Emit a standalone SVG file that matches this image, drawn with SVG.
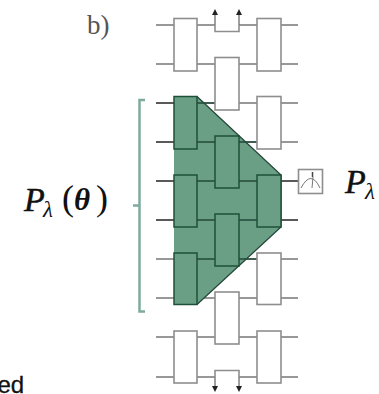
<svg xmlns="http://www.w3.org/2000/svg" width="379" height="394" viewBox="0 0 379 394">
<style>
.w{fill:none;stroke:#777;stroke-width:1.4}
.b{fill:#fff;stroke:#8e8e8e;stroke-width:1.6}
.g{fill:#6b9f85;stroke:#1f4f3a;stroke-width:1.5}
.a{fill:#222}
.m{font-family:"Liberation Serif","DejaVu Serif",serif;fill:#111}
</style>
<rect width="379" height="394" fill="#fff"/>
<g id="connectors">
<path class="w" d="M156 25H215M239 25H298M156 64H298M156 103H298M156 142H298M156 181H298M156 220H298M156 259H298M156 298H298M156 337H298M156 377H215M239 377H298"/>
<path class="w" style="stroke:#444" d="M174 103H156M174 142H156M174 181H156M174 220H156M298 181H281M298 220H281"/>
</g>
<polygon id="shade" points="174,96.500 197,96.500 281,175 281,227 197,304.500 174,304.500" fill="#6b9f85" stroke="none"/>
<path d="M197 96.500L281 175V227L197 304.500" fill="none" stroke="#24483a" stroke-width="1.3"/>
<path d="M197 103H215M197 142H215M239 142H257M197 181H215M239 181H257M197 220H215M239 220H257M197 259H215M239 259H257" fill="none" stroke="#23493a" stroke-width="1.4"/>
<g id="col1">
<rect class="b" x="174" y="18.500" width="23" height="52.500"/>
<rect class="g" x="174" y="96.500" width="23" height="52.500"/>
<rect class="g" x="174" y="175" width="23" height="52"/>
<rect class="g" x="174" y="253" width="23" height="51.500"/>
<rect class="b" x="174" y="331" width="23" height="52"/>
</g>
<g id="col2">
<path class="b" d="M215 25V31.500H239V25" style="fill:none"/>
<rect class="b" x="215" y="57.500" width="24" height="52.500"/>
<rect class="g" x="215" y="136" width="24" height="52"/>
<rect class="g" x="215" y="214" width="24" height="52"/>
<rect class="b" x="215" y="292" width="24" height="52"/>
<path class="b" d="M215 377V370.500H239V377" style="fill:none"/>
</g>
<g id="col3">
<rect class="b" x="257" y="18.500" width="24" height="52.500"/>
<rect class="b" x="257" y="96.500" width="24" height="52.500"/>
<rect class="g" x="257" y="175" width="24" height="52"/>
<rect class="b" x="257" y="253" width="24" height="51.500"/>
<rect class="b" x="257" y="331" width="24" height="52"/>
</g>
<g id="arrows">
<path class="w" d="M215 25V14M239 25V14M215 377V386M239 377V386"/>
<path class="a" d="M215 9L218 15H212ZM239 9L242 15H236ZM215 392L218 386H212ZM239 392L242 386H236Z"/>
</g>
<g id="meter">
<rect x="298.500" y="169.500" width="24" height="24" fill="#fff" stroke="#8e8e8e" stroke-width="1.6"/>
<path d="M301 188Q311 169 320 188M312 188L313 177" fill="none" stroke="#777" stroke-width="1"/>
<path d="M312.500 172V177" stroke="#444" stroke-width="1.5"/>
</g>
<path id="bracket" d="M145 100H139.500V311.500H145M139.500 205.500H133" fill="none" stroke="#7eab9d" stroke-width="2.500"/>
<text x="87" y="34" font-family="Liberation Serif,serif" font-size="27" fill="#555">b)</text>
<text id="label-left" class="m" font-size="34" font-style="italic"><tspan x="24" y="211" stroke="#111" stroke-width="0.5">P</tspan><tspan x="43" y="217" font-size="23">λ</tspan><tspan x="62" y="210" font-size="36" font-style="normal">(</tspan><tspan x="74" y="210" font-size="31" font-weight="bold">θ</tspan><tspan x="96" y="210" font-size="36" font-style="normal">)</tspan></text>
<text id="label-right" class="m" font-size="34" font-style="italic"><tspan x="345" y="193" stroke="#111" stroke-width="0.5">P</tspan><tspan x="365" y="199" font-size="23">λ</tspan></text>
<text x="-2.500" y="392.500" font-family="Liberation Sans,sans-serif" font-size="24" fill="#111" stroke="#111" stroke-width="0.3">ed</text>
</svg>
